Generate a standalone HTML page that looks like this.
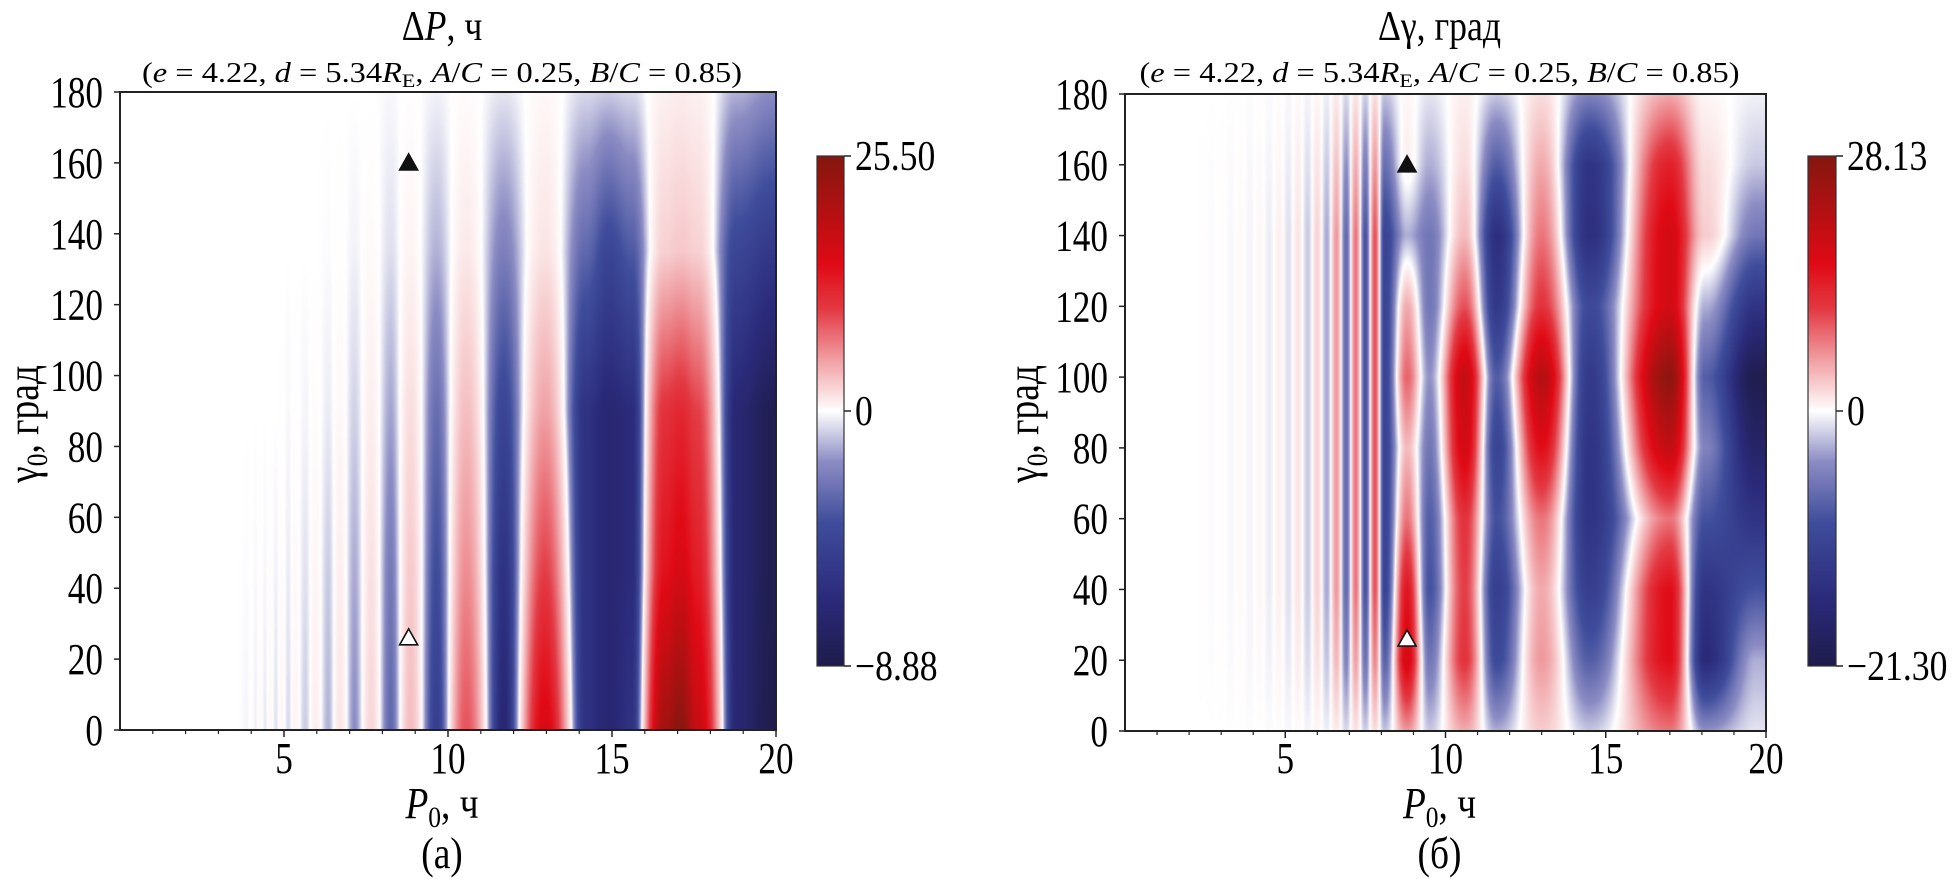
<!DOCTYPE html>
<html><head><meta charset="utf-8">
<style>
html,body{margin:0;padding:0;background:#fff;}
#wrap{position:relative;width:1960px;height:879px;overflow:hidden;background:#fff;}
canvas{position:absolute;}
svg{position:absolute;left:0;top:0;}
text{font-family:"Liberation Serif","DejaVu Serif",serif;fill:#000;}
</style></head>
<body>
<div id="wrap">
<canvas id="hmL" width="656" height="638" style="left:120px;top:92px"></canvas>
<canvas id="hmR" width="641" height="637" style="left:1125px;top:94px"></canvas>
<canvas id="cbL" width="27" height="510" style="left:817px;top:156px"></canvas>
<canvas id="cbR" width="28" height="510" style="left:1808px;top:156px"></canvas>
<svg id="ov" width="1960" height="879"></svg>
</div>
<script>
// ---------- data: left panel (ΔP) ----------
const leftCenters = [0, 3.6, 3.87, 4.0, 4.13, 4.27, 4.42, 4.58, 4.75, 4.93, 5.13, 5.33, 5.65, 5.95, 6.35, 6.7, 7.15, 7.65, 8.25, 8.85, 9.65, 10.55, 11.7, 12.95, 14.2, 14.9, 15.6, 16.6, 17.1, 17.6, 18.8, 19.9];
const leftGammaRows = [0, 45, 90, 135, 180];
const leftAmpG0   = [0, 0, -0.15, 0.2, -0.25, 0.3, -0.35, 0.4, -0.45, 0.5, -0.6, 0.6, -0.8, 0.9, -1.2, 1.4, -1.8, 2.2, -3, 3.5, -5, 9, -7, 16, -6, -7, -6, 22, 25, 18, -7, -8.8];
const leftAmpG45  = [0, 0, -0.05, 0.05, -0.1, 0.1, -0.12, 0.15, -0.2, 0.2, -0.3, 0.3, -0.45, 0.5, -0.8, 0.9, -1.3, 1.6, -2.4, 2.8, -4, 6, -6, 10, -6, -7, -6.5, 14, 16, 13, -7, -8.5];
const leftAmpG90  = [0, 0, 0, 0, 0, 0, 0, 0, 0, 0.05, -0.1, 0.1, -0.15, 0.2, -0.3, 0.4, -0.7, 0.9, -1.4, 1.8, -2.8, 3.5, -4.5, 5, -6, -7, -6.5, 11, 12, 10, -7, -8.5];
const leftAmpG135 = [0, 0, 0, 0, 0, 0, 0, 0, 0, 0, 0, 0, 0, 0, -0.05, 0.1, -0.2, 0.3, -0.5, 0.6, -1.2, 1.2, -2.2, 1.5, -3, -4.5, -3.5, 2.5, 3, 2.5, -4.5, -5.5];
const leftAmpG180 = [0, 0, 0, 0, 0, 0, 0, 0, 0, 0, 0, 0, 0, 0, 0, 0, 0, 0, -0.1, 0.1, -0.2, 0.2, -0.4, 0.4, -0.6, -0.8, -0.6, 0.8, 1, 0.8, -1.2, -1.8];
const leftRange = [-8.88, 25.50];

// ---------- data: right panel (Δγ) ----------
const rightCenters = [0, 2.1, 2.4, 2.7, 3.0, 3.3, 3.6, 3.9, 4.2, 4.5, 4.8, 5.1, 5.4, 5.7, 6.0, 6.3, 6.6, 6.9, 7.2, 7.5, 7.8, 8.1, 8.8, 9.5, 10.6, 11.6, 13.0, 14.5, 17.0, 18.1, 19.7];
const rightGammaRows = [0, 20, 40, 60, 80, 100, 120, 140, 160, 180];
const rightAmpG0   = [0, 0, 0, 0, 0, -0.05, 0.05, -0.1, 0.1, -0.15, 0.2, -0.25, 0.3, -0.4, 0.5, -0.6, 1.2, -1.4, 1.6, -1.8, 2, -2.2, 6, -2, 5, -3, 3, -2, 8, -4, -1];
const rightAmpG20  = [0, 0, 0.07, -0.1, 0.14, -0.18, 0.2, -0.3, 0.35, -0.5, 0.6, -0.8, 1.1, -1.4, 1.8, -2.2, 4.2, -5, 5.6, -6.3, 7, -7.7, 18, -6, 12, -10, 6, -8, 16, -16, -3];
const rightAmpG40  = [0, 0, 0.1, -0.15, 0.2, -0.25, 0.3, -0.4, 0.5, -0.7, 0.9, -1.2, 1.6, -2, 2.6, -3.2, 6, -7, 8, -9, 10, -11, 15, -9, 11, -12, 5, -12, 16, -14, -9];
const rightAmpG60  = [0, 0, 0.1, -0.15, 0.2, -0.25, 0.3, -0.4, 0.5, -0.7, 0.9, -1.2, 1.6, -2, 2.6, -3.2, 6, -7, 8, -9, 10, -11, 8, -8, 12, -9, 8, -14, 8, -9, -14];
const rightAmpG80  = [0, 0, 0.1, -0.15, 0.2, -0.25, 0.3, -0.4, 0.5, -0.7, 0.9, -1.2, 1.6, -2, 2.6, -3.2, 6, -7, 8, -9, 10, -11, 4, -6, 18, -11, 16, -14, 20, -5, -18];
const rightAmpG100 = [0, 0, 0.1, -0.15, 0.2, -0.25, 0.3, -0.4, 0.5, -0.7, 0.9, -1.2, 1.6, -2, 2.6, -3.2, 6, -7, 8, -9, 10, -11, 9, -4, 20, -8, 22, -13, 27, -8, -21];
const rightAmpG120 = [0, 0, 0.1, -0.15, 0.2, -0.25, 0.3, -0.4, 0.5, -0.7, 0.9, -1.2, 1.6, -2, 2.6, -3.2, 6, -7, 8, -9, 10, -11, 5, -6, 10, -13, 12, -10, 18, -3, -14];
const rightAmpG140 = [0, 0, 0.1, -0.15, 0.2, -0.25, 0.3, -0.4, 0.5, -0.7, 0.9, -1.2, 1.6, -2, 2.6, -3.2, 6, -7, 8, -9, 10, -11, -3, -6, 4, -15, 8, -15, 18, 3, -6];
const rightAmpG160 = [0, 0, 0.06, -0.1, 0.12, -0.15, 0.2, -0.25, 0.3, -0.4, 0.5, -0.7, 1, -1.2, 1.6, -2, 3.6, -4.2, 4.8, -5.4, 6, -6.6, 1, -3, 2, -8, 5, -14, 14, 2, -2];
const rightAmpG180 = [0, 0, 0, 0, 0, -0.05, 0.05, -0.1, 0.1, -0.15, 0.2, -0.25, 0.3, -0.4, 0.5, -0.6, 1.2, -1.4, 1.6, -1.8, 2, -2.2, 0.5, -1, 1, -2, 2, -5, 5, 0.5, -0.5];
const rightRange = [-21.30, 28.13];

// ---------- axis tick data ----------
const yTicks = [0, 20, 40, 60, 80, 100, 120, 140, 160, 180];
const xMajorTicks = [5, 10, 15, 20];
const xMinorTicks = [1, 2, 3, 4, 6, 7, 8, 9, 11, 12, 13, 14, 16, 17, 18, 19];
const markerP = [8.8, 8.8];
const markerGamma = [160, 26];

// ---------- colormap ----------
const cmapStops = [
  [0.00, [31, 28, 76]], [0.13, [43, 42, 122]], [0.28, [63, 77, 156]], [0.40, [140, 140, 196]],
  [0.50, [255, 255, 255]], [0.60, [240, 160, 164]], [0.70, [227, 58, 68]], [0.79, [224, 10, 21]],
  [1.00, [133, 23, 15]]
];
function cmap(t) {
  t = Math.max(0, Math.min(1, t));
  for (let i = 1; i < cmapStops.length; i++) {
    if (t <= cmapStops[i][0]) {
      const a = cmapStops[i - 1], b = cmapStops[i];
      const f = (t - a[0]) / (b[0] - a[0]);
      return [0, 1, 2].map(k => Math.round(a[1][k] + (b[1][k] - a[1][k]) * f));
    }
  }
  return cmapStops[cmapStops.length - 1][1];
}
function normT(v, range) {
  return v >= 0 ? 0.5 + 0.5 * v / range[1] : 0.5 - 0.5 * v / range[0];
}
function rowAmps(rows, gammas, g) {
  let i = 0;
  while (i < gammas.length - 2 && g > gammas[i + 1]) i++;
  const f = Math.max(0, Math.min(1, (g - gammas[i]) / (gammas[i + 1] - gammas[i])));
  return rows[i].map((a, k) => a + (rows[i + 1][k] - a) * f);
}
function cosInterp(centers, amps, P) {
  if (P <= centers[0]) return amps[0];
  if (P >= centers[centers.length - 1]) return amps[amps.length - 1];
  let i = 0;
  while (P > centers[i + 1]) i++;
  const u = (P - centers[i]) / (centers[i + 1] - centers[i]);
  const w = 0.5 - 0.5 * Math.cos(Math.PI * u);
  return amps[i] * (1 - w) + amps[i + 1] * w;
}
function drawHeat(id, centers, rows, gammas, range) {
  const cv = document.getElementById(id), ctx = cv.getContext('2d');
  const W = cv.width, H = cv.height, img = ctx.createImageData(W, H);
  for (let py = 0; py < H; py++) {
    const g = 180 * (1 - (py + 0.5) / H);
    const amps = rowAmps(rows, gammas, g);
    for (let px = 0; px < W; px++) {
      const P = 20 * (px + 0.5) / W;
      const c = cmap(normT(cosInterp(centers, amps, P), range));
      const o = (py * W + px) * 4;
      img.data[o] = c[0]; img.data[o + 1] = c[1]; img.data[o + 2] = c[2]; img.data[o + 3] = 255;
    }
  }
  ctx.putImageData(img, 0, 0);
}
drawHeat('hmL', leftCenters, [leftAmpG0, leftAmpG45, leftAmpG90, leftAmpG135, leftAmpG180], leftGammaRows, leftRange);
drawHeat('hmR', rightCenters, [rightAmpG0, rightAmpG20, rightAmpG40, rightAmpG60, rightAmpG80, rightAmpG100, rightAmpG120, rightAmpG140, rightAmpG160, rightAmpG180], rightGammaRows, rightRange);

function drawBar(id) {
  const cv = document.getElementById(id), ctx = cv.getContext('2d');
  for (let y = 0; y < cv.height; y++) {
    const c = cmap(1 - y / (cv.height - 1));
    ctx.fillStyle = 'rgb(' + c.join(',') + ')';
    ctx.fillRect(0, y, cv.width, 1);
  }
}
drawBar('cbL'); drawBar('cbR');

// ---------- overlay ----------
const NS = 'http://www.w3.org/2000/svg';
const svg = document.getElementById('ov');
function el(tag, attrs, txt) {
  const e = document.createElementNS(NS, tag);
  for (const k in attrs) e.setAttribute(k, attrs[k]);
  if (txt !== undefined) e.textContent = txt;
  svg.appendChild(e);
  return e;
}
function squeeze(e, f) {
  const L = e.getComputedTextLength();
  if (L > 0) { e.setAttribute('textLength', (L * f).toFixed(1)); e.setAttribute('lengthAdjust', 'spacingAndGlyphs'); }
}
function panel(pfx, x0, y0, w, h, cbx, cbw, range, titleHTML, ylabX, caption) {
  const xs = P => x0 + P / 20 * w;
  const ys = g => y0 + h - g / 180 * h;
  let e;
  e = el('rect', {x: x0, y: y0, width: w, height: h, fill: 'none', stroke: '#222', 'stroke-width': 2});
  
  
  yTicks.forEach(t => {
    e = el('line', {x1: x0 - 6, x2: x0, y1: ys(t), y2: ys(t), stroke: '#222', 'stroke-width': 1.5});
    
    
    e = el('text', {x: x0 - 17, y: ys(t) + 15, 'font-size': 44, 'text-anchor': 'end'}, String(t));
    
    
    squeeze(e, 0.8);
  });
  xMajorTicks.forEach(t => {
    e = el('line', {x1: xs(t), x2: xs(t), y1: y0 + h, y2: y0 + h + 7, stroke: '#222', 'stroke-width': 1.5});
    
    
    e = el('text', {x: xs(t), y: 773, 'font-size': 44, 'text-anchor': 'middle'}, String(t));
    
    
    squeeze(e, 0.8);
  });
  xMinorTicks.forEach(t => {
    e = el('line', {x1: xs(t), x2: xs(t), y1: y0 + h, y2: y0 + h + 4, stroke: '#222', 'stroke-width': 1.2});
    
    
  });
  const mk = [['#111', '#111'], ['#fff', '#111']];
  markerP.forEach((p, i) => {
    const cx = xs(p), cy = ys(markerGamma[i]);
    e = el('polygon', {points: (cx - 9) + ',' + (cy + 7) + ' ' + (cx + 9) + ',' + (cy + 7) + ' ' + cx + ',' + (cy - 9), fill: mk[i][0], stroke: mk[i][1], 'stroke-width': 1.6});
    
    
  });
  e = el('rect', {x: cbx, y: 156, width: cbw, height: 510, fill: 'none', stroke: '#333', 'stroke-width': 1.2});
  
  
  const cbl = [[156, range[1].toFixed(2)], [411, '0'], [666, '\u2212' + Math.abs(range[0]).toFixed(2)]];
  cbl.forEach(c => {
    e = el('line', {x1: cbx + cbw, x2: cbx + cbw + 7, y1: c[0], y2: c[0], stroke: '#222', 'stroke-width': 1.5});
    
    
    e = el('text', {x: cbx + cbw + 11, y: c[0] + 14, 'font-size': 42}, c[1]);
    
    
    squeeze(e, 0.85);
  });
  const cx = x0 + w / 2 - 6;
  e = el('text', {x: cx, y: 40, 'font-size': 42, 'text-anchor': 'middle'});
  e.innerHTML = titleHTML;
  
  
  squeeze(e, 0.85);
  e = el('text', {x: cx, y: 82, 'font-size': 28, 'text-anchor': 'middle', textLength: 600, lengthAdjust: 'spacingAndGlyphs'});
  e.innerHTML = '(<tspan font-style="italic">e</tspan> = 4.22, <tspan font-style="italic">d</tspan> = 5.34<tspan font-style="italic">R</tspan><tspan font-size="19" dy="5">E</tspan><tspan dy="-5">, </tspan><tspan font-style="italic">A</tspan>/<tspan font-style="italic">C</tspan> = 0.25, <tspan font-style="italic">B</tspan>/<tspan font-style="italic">C</tspan> = 0.85)';
  
  
  e = el('text', {x: cx, y: 818, 'font-size': 44, 'text-anchor': 'middle'});
  e.innerHTML = '<tspan font-style="italic">P</tspan><tspan font-size="30" dy="9">0</tspan><tspan dy="-9">, ч</tspan>';
  
  
  squeeze(e, 0.85);
  e = el('text', {x: 0, y: 0, 'font-size': 44, 'text-anchor': 'middle', transform: 'translate(' + (ylabX + 14) + ',424) rotate(-90)'});
  e.innerHTML = 'γ<tspan font-size="30" dy="9">0</tspan><tspan dy="-9">, град</tspan>';
  
  
  squeeze(e, 0.85);
  e = el('text', {x: cx, y: 868, 'font-size': 44, 'text-anchor': 'middle'}, caption);
  
  
  squeeze(e, 0.85);
}
panel('left', 120, 92, 656, 638, 817, 27, leftRange, 'Δ<tspan font-style="italic">P</tspan>, ч', 24, '(а)');
panel('right', 1125, 94, 641, 637, 1808, 28, rightRange, 'Δγ, град', 1024, '(б)');
</script>
</body></html>
